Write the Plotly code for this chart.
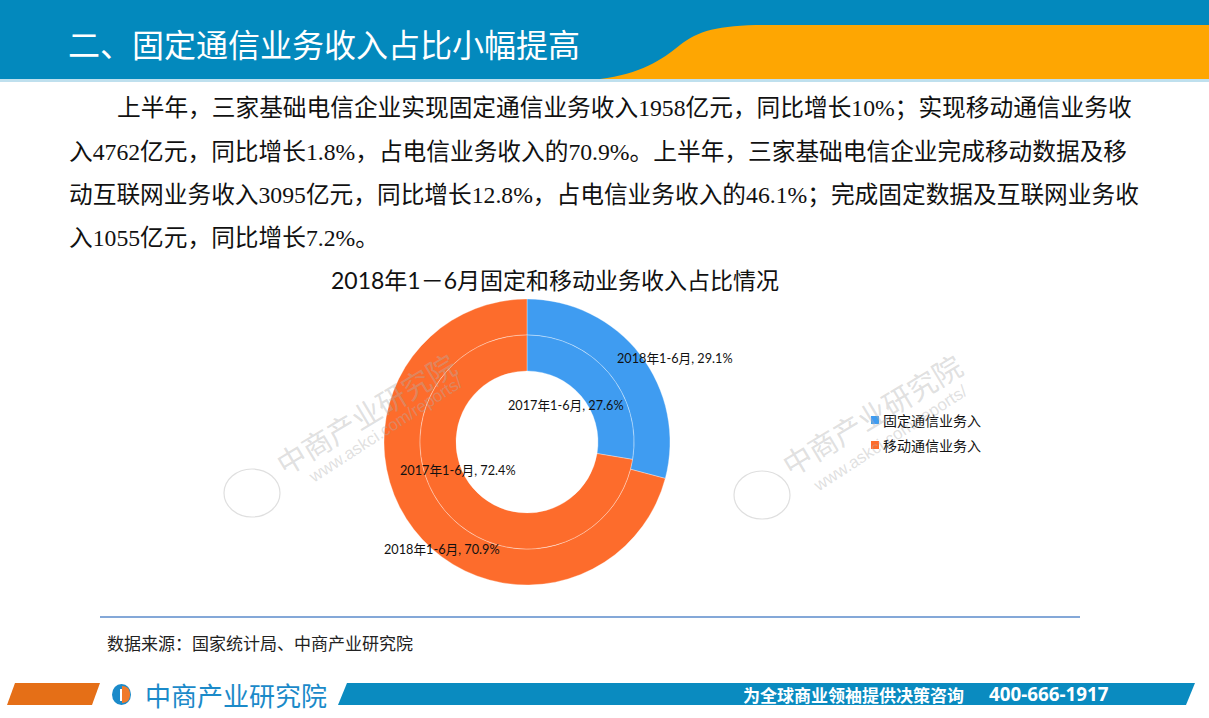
import plotly.graph_objects as go

W, H = 1209, 718

# ---------------- data ----------------
categories = ["固定通信业务入", "移动通信业务入"]
period_2017 = "2017年1-6月"
period_2018 = "2018年1-6月"
share_2017 = [27.6, 72.4]
share_2018 = [29.1, 70.9]
colors = ["#3F9CF1", "#FD6C2C"]

title_text = "二、固定通信业务收入占比小幅提高"
chart_title = "2018年1－6月固定和移动业务收入占比情况"
paragraph_lines = [
    "上半年，三家基础电信企业实现固定通信业务收入1958亿元，同比增长10%；实现移动通信业务收",
    "入4762亿元，同比增长1.8%，占电信业务收入的70.9%。上半年，三家基础电信企业完成移动数据及移",
    "动互联网业务收入3095亿元，同比增长12.8%，占电信业务收入的46.1%；完成固定数据及互联网业务收",
    "入1055亿元，同比增长7.2%。",
]
source_text = "数据来源：国家统计局、中商产业研究院"
brand_text = "中商产业研究院"
slogan_text = "为全球商业领袖提供决策咨询"
phone_text = "400-666-1917"


def X(x):
    return x / W


def Y(y):
    return 1 - y / H


def P(x, y):
    return f"{X(x):.5f},{Y(y):.5f}"


CJK = "Noto Sans CJK SC"
LABEL_FONT = "Lato, Noto Sans CJK SC"
SERIF_MIX = "Liberation Serif, Noto Sans CJK SC"

fig = go.Figure()

# ---------------- nested donut ----------------
cx, cy = 527, 442
r_out, r_mid, r_in = 143, 107, 71


def dom(r):
    return dict(x=[X(cx - r), X(cx + r)], y=[Y(cy + r), Y(cy - r)])


ring_line = dict(color="rgba(255,255,255,0.55)", width=0.6)
fig.add_trace(go.Pie(
    labels=categories, values=share_2018, hole=r_mid / r_out, domain=dom(r_out),
    sort=False, direction="clockwise", rotation=0,
    marker=dict(colors=colors, line=ring_line),
    textinfo="none", hoverinfo="label+value", showlegend=False, name=period_2018,
))
fig.add_trace(go.Pie(
    labels=categories, values=share_2017, hole=r_in / r_mid, domain=dom(r_mid),
    sort=False, direction="clockwise", rotation=0,
    marker=dict(colors=colors, line=ring_line),
    textinfo="none", hoverinfo="label+value", showlegend=False, name=period_2017,
))

shapes = []
ann = []

# ---------------- header ----------------
shapes.append(dict(type="rect", xref="paper", yref="paper", x0=0, x1=1, y0=Y(79), y1=1,
                   fillcolor="#0389BD", line=dict(width=0), layer="below"))
orange_path = (f"M {P(600,79)} C {P(640,74)} {P(662,60)} {P(680,45)} "
               f"C {P(698,31)} {P(718,25)} {P(765,25)} L {P(1209,25)} L {P(1209,79)} Z")
shapes.append(dict(type="path", xref="paper", yref="paper", path=orange_path,
                   fillcolor="#FEA602", line=dict(width=0), layer="below"))
shapes.append(dict(type="rect", xref="paper", yref="paper", x0=0, x1=1, y0=Y(82), y1=Y(79),
                   fillcolor="#BFE0EE", line=dict(width=0), layer="below"))
ann.append(dict(text=title_text, x=X(66), y=Y(43), xanchor="left", yanchor="middle",
                font=dict(family=CJK, size=32, color="white")))

# ---------------- paragraph ----------------
line_y = [108, 152, 195, 238]
for i, (ln, yy) in enumerate(zip(paragraph_lines, line_y)):
    ann.append(dict(text=ln, x=X(115 if i == 0 else 67), y=Y(yy), xanchor="left", yanchor="middle",
                    font=dict(family=SERIF_MIX, size=23.7, color="#111111")))

# ---------------- chart title ----------------
ann.append(dict(text=chart_title, x=X(555), y=Y(280), xanchor="center", yanchor="middle",
                font=dict(family=LABEL_FONT, size=23, color="#111111")))

# ---------------- data labels ----------------
pos_2017 = [(566, 405), (458, 470)]
pos_2018 = [(675, 358), (442, 549)]
for v, (lx, ly) in zip(share_2017, pos_2017):
    ann.append(dict(text=f"{period_2017}, {v:.1f}%", x=X(lx), y=Y(ly), xanchor="center",
                    yanchor="middle", font=dict(family=LABEL_FONT, size=12.7, color="#111111")))
for v, (lx, ly) in zip(share_2018, pos_2018):
    ann.append(dict(text=f"{period_2018}, {v:.1f}%", x=X(lx), y=Y(ly), xanchor="center",
                    yanchor="middle", font=dict(family=LABEL_FONT, size=12.7, color="#111111")))

# ---------------- legend ----------------
leg_y = [420, 445]
for cat, col, ly in zip(categories, colors, leg_y):
    shapes.append(dict(type="rect", xref="paper", yref="paper", x0=X(871), x1=X(879),
                       y0=Y(ly + 4), y1=Y(ly - 4), fillcolor=col, line=dict(width=0)))
    ann.append(dict(text=cat, x=X(881), y=Y(ly), xanchor="left", yanchor="middle",
                    font=dict(family=CJK, size=14, color="#111111")))

# ---------------- watermarks ----------------
wm_col = "rgba(175,175,175,0.40)"
for (bx, by), (tx, ty), (ux, uy) in [((252, 493), (365, 413), (386, 430)),
                                      ((762, 495), (871, 414), (890, 438))]:
    shapes.append(dict(type="circle", xref="paper", yref="paper", x0=X(bx - 28), x1=X(bx + 28),
                       y0=Y(by + 24), y1=Y(by - 24), line=dict(color=wm_col, width=1.2)))
    ann.append(dict(text=brand_text, x=X(tx), y=Y(ty), textangle=-31, showarrow=False,
                    xanchor="center", yanchor="middle",
                    font=dict(family=CJK, size=29, color=wm_col)))
    ann.append(dict(text="www.askci.com/reports/", x=X(ux), y=Y(uy), textangle=-33, showarrow=False,
                    xanchor="center", yanchor="middle",
                    font=dict(family="Liberation Sans", size=17, color=wm_col)))

# ---------------- separator & source ----------------
shapes.append(dict(type="line", xref="paper", yref="paper", x0=X(100), x1=X(1080),
                   y0=Y(617), y1=Y(617), line=dict(color="#5B8BCB", width=1.3)))
ann.append(dict(text=source_text, x=X(105), y=Y(642), xanchor="left", yanchor="middle",
                font=dict(family=CJK, size=17, color="#222222")))

# ---------------- footer ----------------
shapes.append(dict(type="path", xref="paper", yref="paper",
                   path=f"M {P(15,683)} L {P(100,683)} L {P(92,705)} L {P(7,705)} Z",
                   fillcolor="#E56F17", line=dict(width=0)))
shapes.append(dict(type="path", xref="paper", yref="paper",
                   path=f"M {P(347,683)} L {P(1195,683)} L {P(1186,705)} L {P(338,705)} Z",
                   fillcolor="#0A8BC0", line=dict(width=0)))
# logo icon
shapes.append(dict(type="circle", xref="paper", yref="paper", x0=X(112), x1=X(131),
                   y0=Y(705), y1=Y(684), fillcolor="#1B8AC9", line=dict(width=0)))
shapes.append(dict(type="path", xref="paper", yref="paper",
                   path=f"M {P(122,686)} C {P(128,686)} {P(130,690)} {P(130,694.5)} "
                        f"C {P(130,699)} {P(128,703)} {P(122,703)} Z",
                   fillcolor="#F07A2A", line=dict(width=0)))
shapes.append(dict(type="line", xref="paper", yref="paper", x0=X(121), x1=X(121),
                   y0=Y(689), y1=Y(701), line=dict(color="white", width=2)))
ann.append(dict(text=brand_text, x=X(143), y=Y(694), xanchor="left", yanchor="middle",
                font=dict(family=CJK, size=26, color="#1B8AC9")))
ann.append(dict(text=f"<b>{slogan_text}</b>", x=X(741), y=Y(694), xanchor="left", yanchor="middle",
                font=dict(family=CJK, size=17, color="white")))
ann.append(dict(text=f"<b>{phone_text}</b>", x=X(987), y=Y(694), xanchor="left", yanchor="middle",
                font=dict(family="Noto Sans", size=18.8, color="white")))

for a in ann:
    a.setdefault("xref", "paper")
    a.setdefault("yref", "paper")
    a.setdefault("showarrow", False)

fig.update_layout(
    width=W, height=H, autosize=False,
    margin=dict(l=0, r=0, t=0, b=0, pad=0),
    paper_bgcolor="white", plot_bgcolor="white",
    shapes=shapes, annotations=ann, showlegend=False,
)

fig.write_html("out.html")
